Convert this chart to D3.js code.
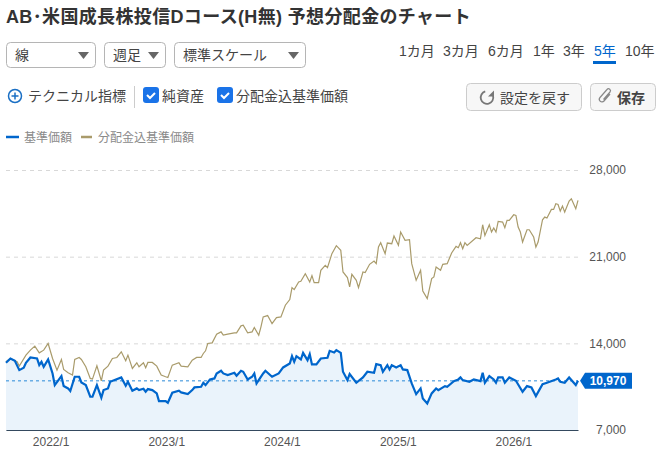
<!DOCTYPE html>
<html>
<head>
<meta charset="utf-8">
<script src="https://cdnjs.cloudflare.com/ajax/libs/d3/7.8.5/d3.min.js"></script>
<style>
html, body { margin: 0; padding: 0; background: #fff; }
svg { display: block; }
text { font-family: "Liberation Sans", "Noto Sans CJK JP", sans-serif; }
</style>
</head>
<body>
<div id="chart"></div>
<script>
var title = 'AB･米国成長株投信Dコース(H無) 予想分配金のチャート';
var periods = ['1カ月', '3カ月', '6カ月', '1年', '3年', '5年', '10年'];
var activePeriod = '5年';
var seriesNames = ['基準価額', '分配金込基準価額'];
var yTicks = [7000, 14000, 21000, 28000];
var xTicks = ['2022-01-01', '2023-01-01', '2024-01-01', '2025-01-01', '2026-01-01'];
var firstDay = '2021-08-13';
var lastPrice = 10970;

// sampled points, x given as weeks since firstDay
var navWeeks = [0,2,4,6,8,9,11,14,15,16,17,19,21,22,25,26,28,29,31,33,34,36,38,39,41,43,44,46,47,49,52,54,55,57,59,60,62,63,64,66,68,69,72,73,75,78,79,82,84,85,88,89,90,92,94,95,97,98,100,103,104,106,107,109,111,112,113,116,117,120,123,125,128,129,130,131,133,134,136,137,138,140,142,145,146,148,149,151,152,154,155,158,161,163,166,167,169,170,172,173,174,176,178,179,181,183,185,187,188,190,192,194,195,198,199,202,204,205,206,209,211,214,215,216,218,220,221,222,224,225,227,230,233,235,237,239,242,244,248,249,250,252,254,257,258];
var navValues = [12428,12777,12589,11837,12025,12428,12858,12777,12240,12508,12105,12696,11568,10627,11353,10547,10359,10144,11299,11299,10842,10627,9687,9687,10627,9606,10224,10359,10896,11031,11245,10574,10896,10171,10359,10224,10332,10090,10305,10224,9956,9338,9338,9203,10009,10171,10036,9902,10224,10439,10493,10816,10627,11084,11165,11568,11783,11568,11434,11622,11380,11783,11702,11084,11299,11568,10762,11568,11783,11299,11568,12052,12374,12965,12508,12965,12696,13234,12643,13126,12293,12293,12777,12831,13395,13261,13449,13234,11702,11031,11514,10816,11245,11702,11622,12320,12240,11702,12240,11890,12240,12052,12240,11890,11837,10762,9902,10359,9553,9150,9956,10359,10224,10547,10493,10950,11084,11245,11031,10896,11084,10950,11622,10816,11353,11084,10816,11245,11245,10816,11245,10977,10090,10547,10439,9741,10708,10816,11084,11165,10896,10816,11245,10627,10970];

var totalWeeks = [0,2,5,6,9,11,13,15,17,19,21,23,25,26,28,30,31,33,34,36,38,39,41,43,44,46,48,50,52,54,55,57,59,60,62,63,64,66,68,70,72,73,75,78,79,82,84,86,88,89,90,91,93,95,97,98,100,103,104,106,107,109,111,112,114,115,116,118,120,122,124,126,128,129,130,132,133,135,137,138,139,141,142,144,145,147,149,151,152,154,155,156,158,159,161,162,164,166,167,168,169,171,172,174,175,177,178,180,182,183,185,187,188,190,192,193,194,196,197,199,201,203,204,205,206,207,208,212,214,215,216,218,219,220,221,222,224,225,226,227,229,230,231,232,233,235,236,238,239,240,242,243,244,246,247,248,249,250,251,252,254,255,257,258];
var totalValues = [12508,12777,12508,12159,13046,13449,13771,13234,13449,13986,12777,11837,12696,11890,11622,11434,12696,12858,12696,12105,11165,11111,12186,10977,11837,12159,12777,12858,13314,12589,13046,11971,12428,12105,12428,12025,12455,12455,12159,11434,11299,11245,12240,12428,12159,12105,12643,12858,12858,13180,13395,13986,14040,14739,14927,14658,14739,14846,14846,15410,15464,14846,14927,15276,14658,15330,16136,16243,15598,16082,16136,17076,17533,18500,18339,18957,19011,19629,18957,19468,18903,18903,19898,20301,20113,21241,21886,21510,19763,19306,18554,19575,19092,18500,19763,19710,20381,20650,20435,21779,22128,21241,22101,22047,22665,21913,22988,22316,22370,20435,19092,19898,18232,17614,19226,19360,20166,19898,20381,20435,21295,21832,21725,22128,21644,22128,21913,22531,22450,23579,22719,23579,22988,23310,22988,23847,23794,23337,23928,23928,24385,24331,23391,22988,22182,23176,23176,22585,21779,22182,23982,24197,24116,24815,24815,25272,25218,24680,25084,24600,25487,25675,24869,25540];

var width = 667, height = 449;
var left = 6, right = 578, top_ = 170, bottom = 430;
var BLUE = '#0066cc', GOLD = '#a99b6b', TEXT = '#444';

var parseDay = d3.timeParse('%Y-%m-%d');
var start = parseDay(firstDay);
function weekDate(w) { return d3.timeDay.offset(start, w * 7); }

var nav = navWeeks.map(function(w, i) { return {date: weekDate(w), value: navValues[i]}; });
var total = totalWeeks.map(function(w, i) { return {date: weekDate(w), value: totalValues[i]}; });

var x = d3.scaleTime().domain([start, weekDate(258)]).range([left, right]);
var y = d3.scaleLinear().domain([7000, 28000]).range([bottom, top_]);

var svg = d3.select('#chart').append('svg').attr('width', width).attr('height', height);

// header
svg.append('text').attr('x', 6).attr('y', 22.5)
    .attr('font-size', 18).attr('font-weight', 'bold').attr('fill', '#333')
    .attr('letter-spacing', 0.35)
    .text(title);

function dropdown(bx, w, label) {
    var g = svg.append('g').attr('transform', 'translate(' + bx + ',42.5)');
    g.append('rect').attr('x', 0.5).attr('width', w).attr('height', 25).attr('rx', 4)
        .attr('fill', '#fff').attr('stroke', '#b5b5b5');
    g.append('text').attr('x', 9).attr('y', 17.5).attr('font-size', 14).attr('fill', TEXT).text(label);
    g.append('path').attr('d', 'M' + (w - 17) + ',9.5h11l-5.5,7z').attr('fill', '#666');
}
dropdown(6, 89, '線');
dropdown(104, 61, '週足');
dropdown(174, 131, '標準スケール');

var periodX = [399, 443, 488, 533, 563, 594, 625];
svg.selectAll('.period').data(periods).enter().append('text')
    .attr('class', 'period')
    .attr('x', function(d, i) { return periodX[i]; })
    .attr('y', 56).attr('font-size', 14)
    .attr('fill', function(d) { return d === activePeriod ? BLUE : TEXT; })
    .text(function(d) { return d; });
svg.append('rect').attr('x', 593).attr('y', 61).attr('width', 23).attr('height', 3).attr('fill', BLUE);

// tool row
svg.append('circle').attr('cx', 15).attr('cy', 96).attr('r', 6.5)
    .attr('fill', 'none').attr('stroke', '#1a6fc4').attr('stroke-width', 1.5);
svg.append('path').attr('d', 'M11.5,96h7M15,92.5v7').attr('stroke', '#1a6fc4').attr('stroke-width', 1.5);
svg.append('text').attr('x', 28).attr('y', 101).attr('font-size', 14).attr('fill', TEXT).text('テクニカル指標');
svg.append('line').attr('x1', 134.5).attr('x2', 134.5).attr('y1', 86).attr('y2', 108).attr('stroke', '#ccc');

function checkbox(bx, label) {
    svg.append('rect').attr('x', bx).attr('y', 87).attr('width', 16).attr('height', 16).attr('rx', 3).attr('fill', '#1a73e8');
    svg.append('path').attr('d', 'M' + (bx + 4) + ',95l3,3l5,-5')
        .attr('fill', 'none').attr('stroke', '#fff').attr('stroke-width', 2);
    svg.append('text').attr('x', bx + 19).attr('y', 101).attr('font-size', 14).attr('fill', TEXT).text(label);
}
checkbox(143, '純資産');
checkbox(217, '分配金込基準価額');

svg.append('rect').attr('x', 466.5).attr('y', 83.5).attr('width', 115).attr('height', 27).attr('rx', 4)
    .attr('fill', '#f7f7f7').attr('stroke', '#ccc');
svg.append('path').attr('d', d3.arc()({innerRadius: 5.4, outerRadius: 7.2, startAngle: 1.3, endAngle: 6.0}))
    .attr('transform', 'translate(487,97.5)').attr('fill', '#777');
svg.append('path').attr('d', 'M494,90.5v6h-6z').attr('fill', '#777');
svg.append('text').attr('x', 500).attr('y', 103).attr('font-size', 14).attr('fill', TEXT).text('設定を戻す');

svg.append('rect').attr('x', 590.5).attr('y', 83.5).attr('width', 65).attr('height', 27).attr('rx', 4)
    .attr('fill', '#f7f7f7').attr('stroke', '#ccc');
svg.append('path').attr('d', 'M610,93l-6,7a2.5,2.5 0 0 1 -4,-3.5l7,-8a1.8,1.8 0 0 1 3,2.5l-6.5,7.5')
    .attr('transform', 'translate(0,1)')
    .attr('fill', 'none').attr('stroke', '#888').attr('stroke-width', 1.2);
svg.append('text').attr('x', 617).attr('y', 102.5).attr('font-size', 14).attr('font-weight', 'bold').attr('fill', TEXT).text('保存');

// legend
var legendX = [[6, 19, 24, BLUE], [81, 92, 98, GOLD]];
seriesNames.forEach(function(name, i) {
    var l = legendX[i];
    svg.append('line').attr('x1', l[0]).attr('x2', l[1]).attr('y1', 137).attr('y2', 137)
        .attr('stroke', l[3]).attr('stroke-width', 2.5);
    svg.append('text').attr('x', l[2]).attr('y', 141.5).attr('font-size', 12).attr('fill', '#8a8a8a').text(name);
});

// axes
var yAxis = d3.axisRight(y).tickValues(yTicks).tickSize(right - left).tickFormat(d3.format(','));
var yy = svg.append('g').attr('transform', 'translate(' + left + ',0)').call(yAxis);
yy.select('.domain').remove();
yy.selectAll('line').attr('stroke', '#d8d8d8').attr('stroke-dasharray', '4,4');
yy.selectAll('text').attr('x', 620).attr('text-anchor', 'end').attr('font-size', 12).attr('fill', '#555');

var xAxis = d3.axisBottom(x).tickValues(xTicks.map(parseDay)).tickSize(0).tickPadding(7)
    .tickFormat(d3.timeFormat('%Y/1'));
var xx = svg.append('g').attr('transform', 'translate(0,' + bottom + ')').call(xAxis);
xx.select('.domain').attr('stroke', '#34495e').attr('stroke-width', 1.2);
xx.selectAll('text').attr('font-size', 12).attr('fill', '#555');

// series
var area = d3.area().x(function(d) { return x(d.date); }).y0(bottom).y1(function(d) { return y(d.value); });
var line = d3.line().x(function(d) { return x(d.date); }).y(function(d) { return y(d.value); });

svg.append('path').datum(nav).attr('d', area).attr('fill', '#eaf3fb');
svg.append('line').attr('x1', left).attr('x2', right).attr('y1', y(lastPrice)).attr('y2', y(lastPrice))
    .attr('stroke', '#2a8ad8').attr('stroke-dasharray', '3,3');
svg.append('path').datum(total).attr('d', line).attr('fill', 'none').attr('stroke', GOLD).attr('stroke-width', 1.2);
svg.append('path').datum(nav).attr('d', line).attr('fill', 'none').attr('stroke', BLUE).attr('stroke-width', 2.2);

// last price tag
var tagY = y(lastPrice);
svg.append('path').attr('d', 'M580,' + tagY + 'l5,-8h47v16h-47z').attr('fill', BLUE);
svg.append('text').attr('x', 608).attr('y', tagY + 4.5).attr('text-anchor', 'middle')
    .attr('font-size', 12).attr('font-weight', 'bold').attr('fill', '#fff').text(d3.format(',')(lastPrice));
</script>
</body>
</html>
